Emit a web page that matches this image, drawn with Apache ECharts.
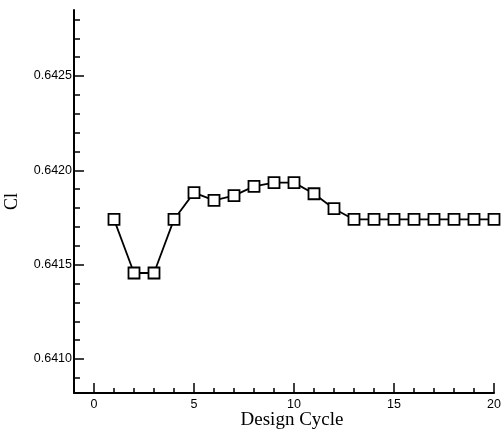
<!DOCTYPE html>
<html>
<head>
<meta charset="utf-8">
<script src="https://cdn.jsdelivr.net/npm/echarts@6/dist/echarts.min.js"></script>
<style>
  html, body { margin: 0; padding: 0; background: #fff; }
  #chart { width: 503px; height: 430px; }
</style>
</head>
<body>
<div id="chart"></div>
<script>
// Lift coefficient per design cycle
const cycles = [1, 2, 3, 4, 5, 6, 7, 8, 9, 10, 11, 12, 13, 14, 15, 16, 17, 18, 19, 20];
const clValues = [0.64174, 0.641456, 0.641456, 0.64174, 0.641882, 0.641841, 0.641866, 0.641915, 0.641935, 0.641935,
                  0.641876, 0.641797, 0.64174, 0.64174, 0.64174, 0.64174, 0.64174, 0.64174, 0.64174, 0.64174];

// Axis ticks
const xMajorTicks = [0, 5, 10, 15, 20];
const xMinorTicks = [-1, 1, 2, 3, 4, 6, 7, 8, 9, 11, 12, 13, 14, 16, 17, 18, 19];
const yMajorTicks = [0.6410, 0.6415, 0.6420, 0.6425];
const yMinorTicks = [0.6409, 0.6411, 0.6412, 0.6413, 0.6414, 0.6416, 0.6417, 0.6418, 0.6419,
                     0.6421, 0.6422, 0.6423, 0.6424, 0.6426, 0.6427, 0.6428];

const X_MIN = -1, X_MAX = 20;
const Y_MIN = 0.64082, Y_MAX = 0.64285;

const points = cycles.map((c, i) => [c, clValues[i]]);

const chart = echarts.init(document.getElementById('chart'), null, { renderer: 'canvas' });

const tickLabelFont = { color: '#000', fontFamily: 'Liberation Sans, Arial, sans-serif', fontSize: 12.5 };
const nameFont = { color: '#000', fontFamily: 'Liberation Serif, Times New Roman, serif', fontSize: 18 };

chart.setOption({
  animation: false,
  backgroundColor: '#fff',
  grid: { left: 74, right: 9, top: 10, bottom: 37, containLabel: false, outerBoundsMode: 'none' },
  xAxis: [
    {
      type: 'value', min: X_MIN, max: X_MAX, position: 'bottom', offset: 0,
      name: 'Design Cycle', nameLocation: 'middle', nameGap: 18, nameMoveOverlap: false,
      nameTextStyle: { ...nameFont, fontSize: 19, padding: [0, 0, 0, 16] },
      axisLine: { show: true, onZero: false, lineStyle: { color: '#000', width: 2 } },
      axisTick: { show: true, inside: true, length: 10, customValues: xMajorTicks, lineStyle: { color: '#000', width: 1.5 } },
      axisLabel: { show: true, customValues: xMajorTicks, margin: 5, ...tickLabelFont },
      splitLine: { show: false }
    },
    {
      type: 'value', min: X_MIN, max: X_MAX, position: 'bottom', offset: 0,
      axisLine: { show: false, onZero: false },
      axisTick: { show: true, inside: true, length: 5, customValues: xMinorTicks, lineStyle: { color: '#000', width: 1.5 } },
      axisLabel: { show: false },
      splitLine: { show: false }
    }
  ],
  yAxis: [
    {
      type: 'value', min: Y_MIN, max: Y_MAX, position: 'left', offset: 0,
      name: 'Cl', nameLocation: 'middle', nameGap: 53, nameRotate: 90, nameMoveOverlap: false, nameTextStyle: nameFont,
      axisLine: { show: true, onZero: false, lineStyle: { color: '#000', width: 2 } },
      axisTick: { show: true, inside: true, length: 10, customValues: yMajorTicks, lineStyle: { color: '#000', width: 1.5 } },
      axisLabel: { show: true, customValues: yMajorTicks, margin: 2, formatter: v => v.toFixed(4), ...tickLabelFont },
      splitLine: { show: false }
    },
    {
      type: 'value', min: Y_MIN, max: Y_MAX, position: 'left', offset: 0,
      axisLine: { show: false, onZero: false },
      axisTick: { show: true, inside: true, length: 6, customValues: yMinorTicks, lineStyle: { color: '#000', width: 1.5 } },
      axisLabel: { show: false },
      splitLine: { show: false }
    }
  ],
  series: [
    {
      type: 'line', xAxisIndex: 0, yAxisIndex: 0,
      data: points,
      symbol: 'rect', symbolSize: 11,
      lineStyle: { color: '#000', width: 1.8 },
      itemStyle: { color: '#fff', borderColor: '#000', borderWidth: 1.8 },
      z: 5
    }
  ]
});
</script>
</body>
</html>
